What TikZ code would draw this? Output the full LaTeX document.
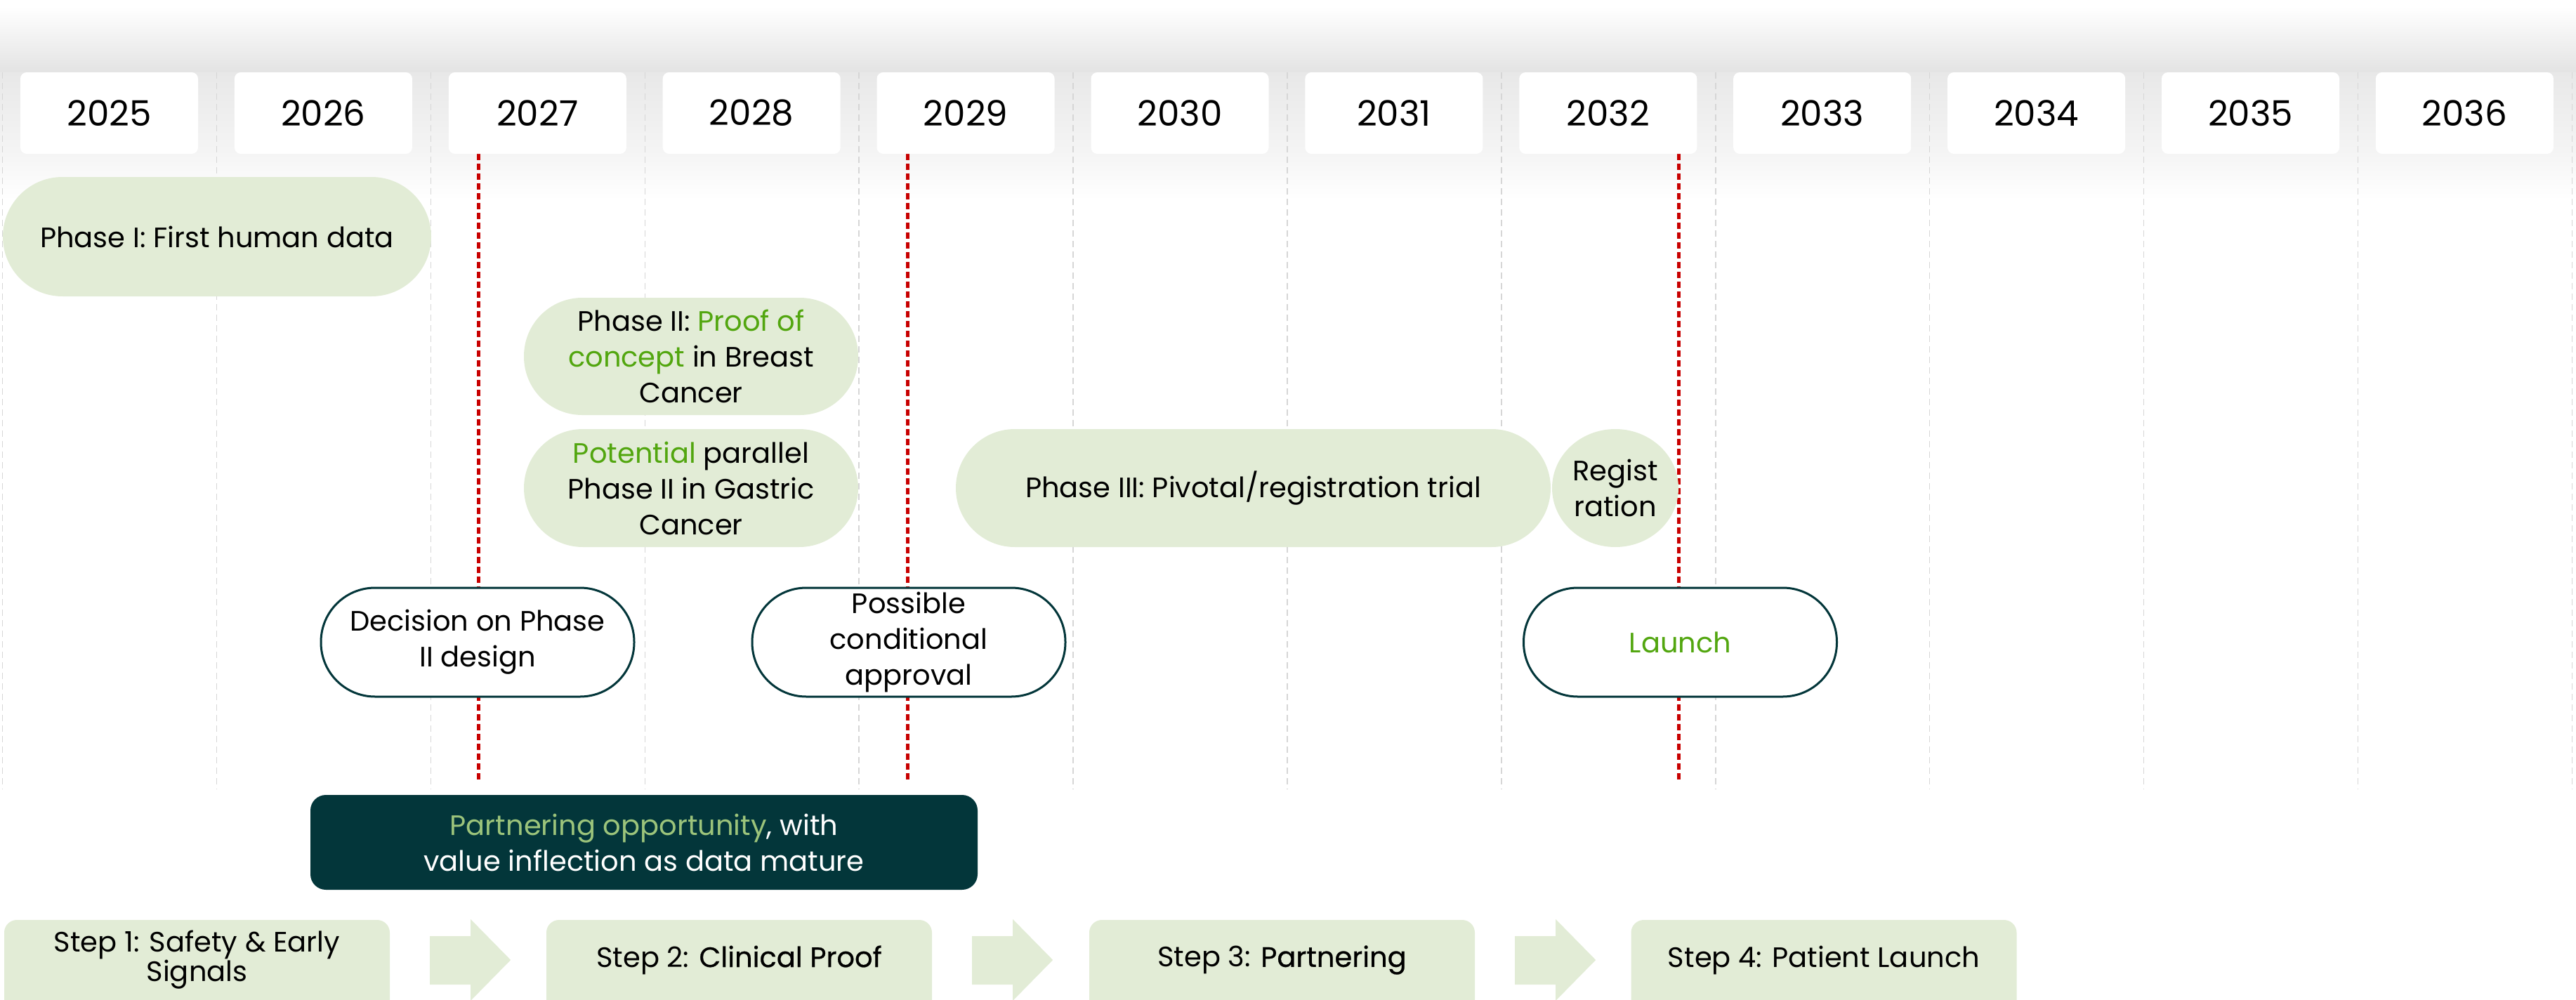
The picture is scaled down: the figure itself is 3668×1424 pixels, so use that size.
\documentclass[tikz,border=0pt]{standalone}
\usepackage{fontspec}
\setmainfont{Poppins}
\newfontfamily\medfont{Poppins}[FakeBold=0.6]
\usetikzlibrary{shapes.geometric,calc}
\definecolor{lgreen}{HTML}{E2ECD6}
\definecolor{dteal}{HTML}{03363A}
\definecolor{bgreen}{HTML}{52A60F}
\definecolor{pgreen}{HTML}{9CC47B}
\definecolor{dred}{HTML}{C80000}
\definecolor{gridgray}{HTML}{D6D6D6}
\begin{document}
\begin{tikzpicture}[x=1pt,y=-1pt,
  every node/.style={inner sep=0pt, align=center, font=\fontsize{40}{51}\selectfont},
  yearbox/.style={fill=white, rounded corners=9, minimum width=253, minimum height=116, font=\fontsize{50}{58}\selectfont},
  gbox/.style={fill=lgreen, rounded corners=#1},
  obox/.style={fill=white, draw=dteal, line width=3, rounded corners=77, minimum width=446, minimum height=155},
  gridline/.style={gridgray, line width=1.5, dash pattern=on 9 off 6},
  milestone/.style={dred, line width=5, dash pattern=on 9 off 5},
  stepbox/.style={fill=lgreen, rounded corners=18, minimum width=549, minimum height=150},
  steparrow/.style={fill=lgreen}
]
\useasboundingbox (0,0) rectangle (3668,1424);
\begin{scope}
\clip (0,0) rectangle (3668,1424);
% soft shadow band behind year boxes
\shade[top color=white, bottom color=black!6] (0,10) rectangle (3668,60);
\shade[top color=black!6, bottom color=black!11] (0,60) rectangle (3668,104);
\shade[top color=black!9, bottom color=black!4] (0,103) rectangle (3668,220);
\shade[top color=black!4, bottom color=white] (0,219) rectangle (3668,285);
% grid lines
\foreach \k in {0,...,12} {
  \draw[gridline] ({3.6+304.9*\k},103) -- ({3.6+304.9*\k},1124);
}
% milestone lines
\coordinate (m1a) at (681,219);  \coordinate (m1b) at (681,1113);
\coordinate (m2a) at (1292,219); \coordinate (m2b) at (1292,1113);
\coordinate (m3a) at (2390,219); \coordinate (m3b) at (2390,1113);
\draw[milestone] (m1a) -- (m1b);
\draw[milestone] (m2a) -- (m2b);
\draw[milestone] (m3a) -- (m3b);
% year boxes
\foreach \y [count=\i from 0] in {2025,...,2036} {
  \node[yearbox] (y\y) at ({155.5+304.9*\i},161) {\y};
}
% phases
\node[gbox=85, minimum width=610, minimum height=170] (ph1) at (309,337) {Phase I: First human data};
\node[gbox=83, minimum width=476, minimum height=167] (ph2a) at (984,507.5)
  {Phase II: {\color{bgreen}Proof of}\\{\color{bgreen}concept} in Breast\\Cancer};
\node[gbox=84, minimum width=476, minimum height=168] (ph2b) at (984,695)
  {{\color{bgreen}Potential} parallel\\Phase II in Gastric\\Cancer};
\node[gbox=84, minimum width=847, minimum height=168] (ph3) at (1784.5,695)
  {Phase III: Pivotal/registration trial};
\node[ellipse, fill=lgreen, minimum width=180, minimum height=168] (reg) at (2300,695)
  {Regist\\ration};
% milestones
\node[obox] (dec) at (680,914.5) {Decision on Phase\\II design};
\node[obox] (pos) at (1294,914.5) {Possible\\conditional\\approval};
\node[obox] (lau) at (2392.5,914.5) {\color{bgreen}Launch};
% partnering
\node[fill=dteal, rounded corners=22, minimum width=950, minimum height=135, text=white] (par) at (917,1199.5)
  {{\color{pgreen}Partnering opportunity}, with\\value inflection as data mature};
% steps
\node[stepbox] (s1) at (280.5,1385) {};
\node[stepbox] (s2) at (1052.5,1385) {};
\node[stepbox] (s3) at (1825.5,1385) {};
\node[stepbox] (s4) at (2597,1385) {};
\node[font=\fontsize{40}{42}\selectfont] (s1t) at ([yshift=18]s1.center) {Step 1: Safety \& Early\\Signals};
\node (s2t) at ([yshift=18]s2.center) {Step 2: {\medfont Clinical Proof}};
\node (s3t) at ([yshift=18]s3.center) {Step 3: {\medfont Partnering}};
\node (s4t) at ([yshift=18]s4.center) {Step 4: Patient Launch};
\foreach \a/\b in {s1/s2, s2/s3, s3/s4} {
  \fill[steparrow] ($(\a.east)+(57,-52)$) -- ++(58,0) -- ++(0,-24) -- ++(57,58) -- ++(-57,58) -- ++(0,-23) -- ++(-58,0) -- cycle;
}
\end{scope}
\end{tikzpicture}
\end{document}
